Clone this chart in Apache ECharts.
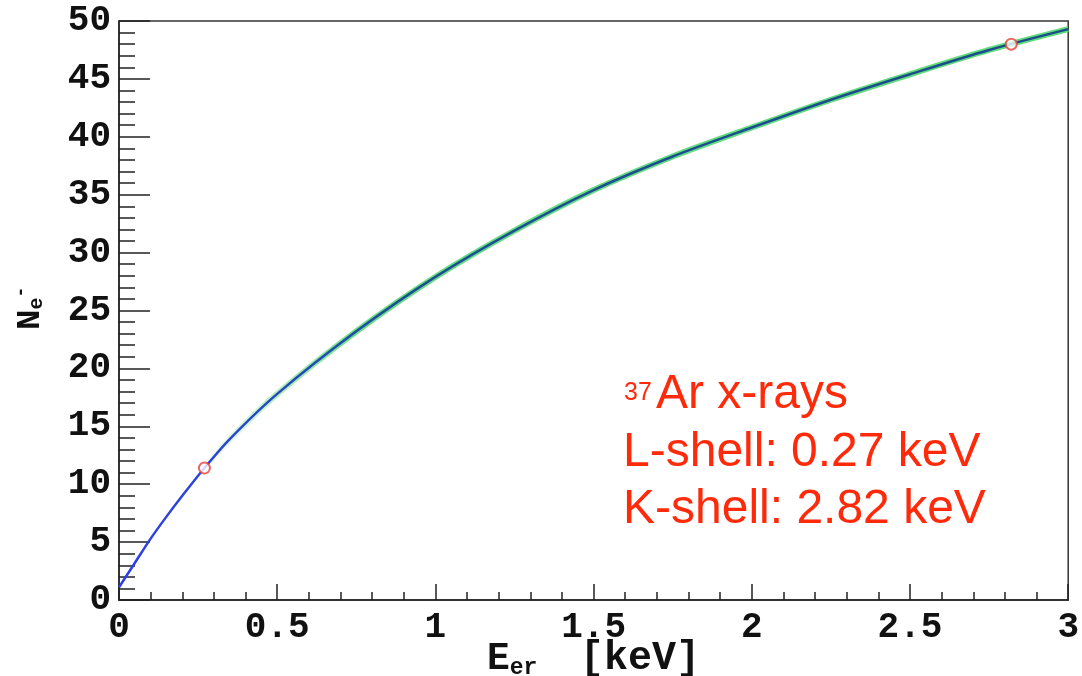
<!DOCTYPE html>
<html>
<head>
<meta charset="utf-8">
<script src="https://cdn.jsdelivr.net/npm/echarts@6/dist/echarts.min.js"></script>
<style>
  html, body { margin: 0; padding: 0; background: #fff; }
  #main { width: 1082px; height: 676px; }
</style>
</head>
<body>
<div id="main"></div>
<script>
// electron-recoil energy [keV] vs number of electrons
var energy = [0, 0.05, 0.1, 0.15, 0.2, 0.27, 0.35, 0.5, 0.75, 1, 1.25, 1.5, 1.75, 2, 2.25, 2.5, 2.75, 3];
var nElectrons = [1.1, 3.2, 5.3, 7.2, 9.0, 11.4, 13.9, 17.8, 23.2, 27.9, 31.9, 35.4, 38.3, 40.8, 43.2, 45.4, 47.5, 49.3];
// 37Ar x-ray lines
var lineEnergy = [0.27, 2.82];
var lineN = [11.4, 48.0];

var curve = energy.map(function (e, i) { return [e, nElectrons[i]]; });
var marks = lineEnergy.map(function (e, i) { return [e, lineN[i]]; });

var chart = echarts.init(document.getElementById('main'));
var axisFont = { fontFamily: 'Liberation Mono', fontWeight: 'bold', fontSize: 36, color: '#111' };
var monoBold = { fontFamily: 'Liberation Mono', fontWeight: 'bold', fill: '#111' };
var red = '#ff2a0a';

var option = {
  animation: false,
  grid: {
    left: 119, right: 11, top: 21, bottom: 76,
    show: true, borderColor: '#333', borderWidth: 1.5
  },
  xAxis: {
    type: 'value',
    min: 0, max: 3, interval: 0.5,
    axisLine: { lineStyle: { color: '#222', width: 1.5 } },
    axisTick: { inside: true, length: 16, lineStyle: { color: '#222', width: 1.5 } },
    minorTick: { show: true, splitNumber: 5, length: 8, lineStyle: { color: '#222', width: 1.5 } },
    splitLine: { show: false },
    axisLabel: Object.assign({ margin: 10, showMaxLabel: true }, axisFont)
  },
  yAxis: {
    type: 'value',
    min: 0, max: 50, interval: 5,
    axisLine: { lineStyle: { color: '#222', width: 1.5 } },
    axisTick: { inside: true, length: 31, lineStyle: { color: '#222', width: 1.5 } },
    minorTick: { show: true, splitNumber: 5, length: 16, lineStyle: { color: '#222', width: 1.5 } },
    splitLine: { show: false },
    axisLabel: Object.assign({ margin: 8 }, axisFont)
  },
  series: [
    {
      // green band around the mean
      type: 'line',
      data: curve,
      smooth: 0.3,
      showSymbol: false,
      lineStyle: {
        width: 6,
        color: new echarts.graphic.LinearGradient(0, 0, 1, 0, [
          { offset: 0, color: 'rgba(90,225,110,0)' },
          { offset: 0.08, color: 'rgba(90,225,110,0)' },
          { offset: 0.25, color: 'rgba(80,215,110,0.85)' },
          { offset: 1, color: 'rgba(80,215,110,0.9)' }
        ])
      },
      z: 2
    },
    {
      type: 'line',
      data: curve,
      smooth: 0.3,
      showSymbol: false,
      lineStyle: {
        width: 2.5,
        color: new echarts.graphic.LinearGradient(0, 0, 1, 0, [
          { offset: 0, color: '#2f3fe6' },
          { offset: 0.1, color: '#2c44d6' },
          { offset: 0.3, color: '#1c5096' },
          { offset: 1, color: '#1a4d88' }
        ])
      },
      z: 3
    },
    {
      type: 'scatter',
      data: marks,
      symbol: 'emptyCircle',
      symbolSize: 11,
      itemStyle: { color: '#e8403a', borderColor: '#e8403a', borderWidth: 1.5 },
      z: 4
    }
  ],
  graphic: [
    {
      type: 'text', left: 487, top: 640,
      style: {
        text: '{b|E}{s|er}',
        rich: {
          b: Object.assign({ fontSize: 38, verticalAlign: 'bottom' }, monoBold),
          s: Object.assign({ fontSize: 23, verticalAlign: 'bottom', padding: [0, 0, -2, 0] }, monoBold)
        }
      }
    },
    {
      type: 'text', left: 580, top: 639,
      style: Object.assign({ text: '[keV]', fontSize: 40 }, monoBold)
    },
    {
      type: 'text', x: 12, y: 330, rotation: Math.PI / 2,
      style: {
        text: '{b|N}{s|e}{p|-}',
        rich: {
          b: Object.assign({ fontSize: 34 }, monoBold),
          s: Object.assign({ fontSize: 20, padding: [14, 0, 0, 0] }, monoBold),
          p: Object.assign({ fontSize: 18, padding: [0, 0, 18, 0] }, monoBold)
        }
      }
    },
    {
      type: 'text', left: 624, top: 381,
      style: { text: '37', font: '25px "Liberation Sans"', fill: red }
    },
    {
      type: 'text', left: 656, top: 371,
      style: { text: 'Ar x-rays', font: '48px "Liberation Sans"', fill: red }
    },
    {
      type: 'text', left: 623, top: 429,
      style: { text: 'L-shell: 0.27 keV', font: '48px "Liberation Sans"', fill: red }
    },
    {
      type: 'text', left: 623, top: 486,
      style: { text: 'K-shell: 2.82 keV', font: '48px "Liberation Sans"', fill: red }
    }
  ]
};
chart.setOption(option);
</script>
</body>
</html>
